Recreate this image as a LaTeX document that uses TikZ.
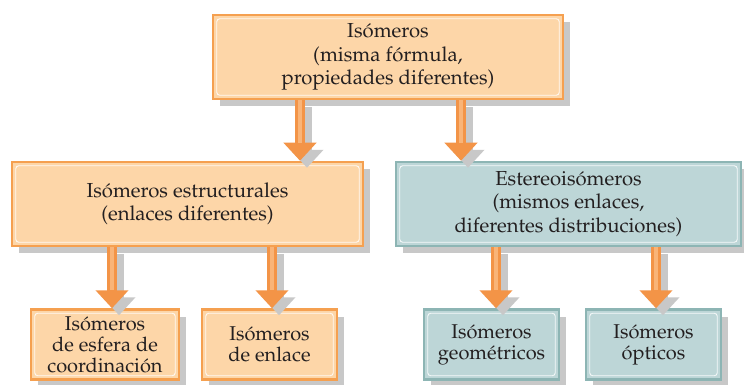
\documentclass[tikz,border=0pt]{standalone}
\usepackage[T1]{fontenc}
\usepackage{mathpazo}
\usetikzlibrary{arrows.meta,shadows}
\definecolor{ofill}{HTML}{FDD6A8}
\definecolor{oline}{HTML}{F5A050}
\definecolor{tfill}{HTML}{BDD6D7}
\definecolor{tline}{HTML}{8DB5B4}
\definecolor{txt}{HTML}{231F20}
\definecolor{shad}{HTML}{C8C8C8}
\definecolor{arr}{HTML}{F39447}
\definecolor{arrl}{HTML}{F9B478}
\tikzset{
  box/.style={rectangle, line width=2.5pt, align=center, text=txt, inner sep=0pt,
    font=\fontsize{20.3}{23.3}\selectfont,
    drop shadow={shadow xshift=7pt, shadow yshift=-7pt, fill=shad, opacity=1}},
  smallbox/.style={font=\fontsize{20}{21}\selectfont},
  obox/.style={box, fill=ofill, draw=oline},
  tbox/.style={box, fill=tfill, draw=tline},
  innerline/.style={draw=white, line width=0.9pt, rounded corners=3pt, opacity=0.85},
  bigarrow/.style={draw=arr, line width=10pt, -{Triangle[width=32pt,length=18pt,fill=arr]}},
  arrowglow/.style={draw=arrl, line width=4pt, shorten >=18pt},
  arrowshadow/.style={draw=shad, line width=10pt, -{Triangle[width=32pt,length=18pt,fill=shad]},
    transform canvas={xshift=7pt,yshift=-7pt}}
}
\begin{document}
\begin{tikzpicture}[x=1pt,y=-1pt]
\useasboundingbox (0,0) rectangle (744,385);
% x positions of the connectors
\coordinate (c1) at (300,0);
\coordinate (c2) at (461,0);
\coordinate (c3) at (112,0);
\coordinate (c4) at (272,0);
\coordinate (c5) at (496,0);
\coordinate (c6) at (656,0);
% boxes
\node[obox, minimum width=350pt, minimum height=84pt] (top) at (388,57)
  {Is\'omeros\\(misma f\'ormula,\\propiedades diferentes)};
\node[obox, minimum width=351pt, minimum height=84pt] (sl) at (187.5,204)
  {Is\'omeros estructurales\\(enlaces diferentes)};
\node[tbox, minimum width=345pt, minimum height=84pt] (sr) at (568.5,204)
  {Estereois\'omeros\\(mismos enlaces,\\diferentes distribuciones)};
\node[obox, smallbox, minimum width=148pt, minimum height=70pt] (b1) at (105,344.5)
  {Is\'omeros\\de esfera de\\coordinaci\'on};
\node[obox, smallbox, minimum width=135pt, minimum height=70pt] (b2) at (269.5,344.5)
  {Is\'omeros\\de enlace};
\node[tbox, smallbox, minimum width=135pt, minimum height=70pt] (b3) at (491.5,344.5)
  {Is\'omeros\\geom\'etricos};
\node[tbox, smallbox, minimum width=135pt, minimum height=70pt] (b4) at (653.5,344.5)
  {Is\'omeros\\\'opticos};
% inner white lines
\foreach \n in {top,sl,sr,b1,b2,b3,b4}
  \draw[innerline] ([shift={(5pt,-5pt)}]\n.north west) rectangle ([shift={(-5pt,5pt)}]\n.south east);
% arrow shadows
\draw[arrowshadow] (top.south -| c1) -- (sl.north -| c1);
\draw[arrowshadow] (top.south -| c2) -- (sr.north -| c2);
\draw[arrowshadow] (sl.south -| c3) -- (b1.north -| c3);
\draw[arrowshadow] (sl.south -| c4) -- (b2.north -| c4);
\draw[arrowshadow] (sr.south -| c5) -- (b3.north -| c5);
\draw[arrowshadow] (sr.south -| c6) -- (b4.north -| c6);
% arrows
\draw[bigarrow] (top.south -| c1) -- (sl.north -| c1);
\draw[bigarrow] (top.south -| c2) -- (sr.north -| c2);
\draw[bigarrow] (sl.south -| c3) -- (b1.north -| c3);
\draw[bigarrow] (sl.south -| c4) -- (b2.north -| c4);
\draw[bigarrow] (sr.south -| c5) -- (b3.north -| c5);
\draw[bigarrow] (sr.south -| c6) -- (b4.north -| c6);
% arrow highlights
\draw[arrowglow] (top.south -| c1) -- (sl.north -| c1);
\draw[arrowglow] (top.south -| c2) -- (sr.north -| c2);
\draw[arrowglow] (sl.south -| c3) -- (b1.north -| c3);
\draw[arrowglow] (sl.south -| c4) -- (b2.north -| c4);
\draw[arrowglow] (sr.south -| c5) -- (b3.north -| c5);
\draw[arrowglow] (sr.south -| c6) -- (b4.north -| c6);
\end{tikzpicture}
\end{document}
